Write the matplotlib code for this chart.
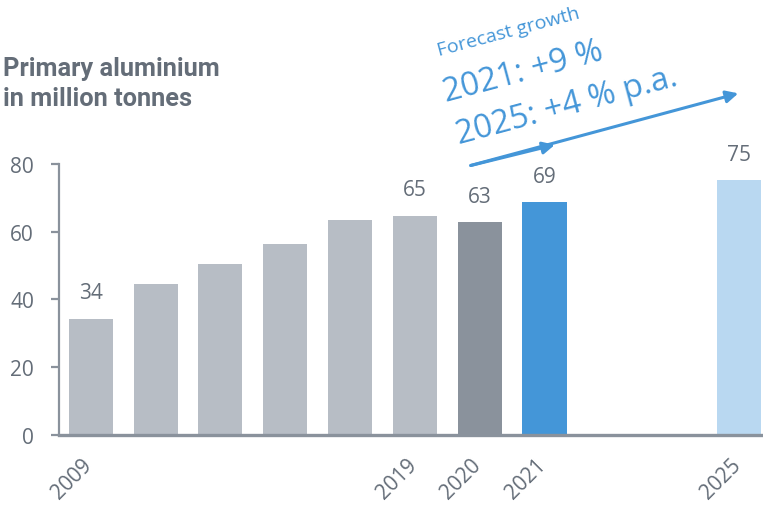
import numpy as np
import matplotlib
matplotlib.use("Agg")
import matplotlib.pyplot as plt
import matplotlib.transforms as mtransforms

# data
years = ['2009', '', '', '', '', '2019', '2020', '2021', '', '', '2025']
values = [34.2, 44.6, 50.5, 56.3, 63.3, 64.6, 62.7, 68.6, np.nan, np.nan, 75.1]
shown = ['34', '', '', '', '', '65', '63', '69', '', '', '75']
colors = ['#b7bdc5'] * 6 + ['#8a929c', '#4496d8', '#ffffff', '#ffffff', '#b9d8f1']

grey_text = '#646d78'
axis_col = '#8a929c'
blue = '#4496d8'

plt.rcParams['font.family'] = ['Open Sans', 'DejaVu Sans']

fig = plt.figure(figsize=(7.63, 5.06), dpi=100)
ax = fig.add_axes([0.0773, 0.1383, 0.9227, 0.536])

x = np.arange(len(years))
ax.bar(x, values, width=0.68, color=colors)

for xi, v, s in zip(x, values, shown):
    if s:
        ax.annotate(s, (xi, v), xytext=(0, 19), textcoords='offset points',
                    ha='center', va='center', fontsize=15, color=grey_text)

ax.set_xlim(-0.49, 10.37)
ax.set_ylim(0, 80)
ax.set_yticks([0, 20, 40, 60, 80])
ax.set_xticks([])

# year labels, rotated, a bit left of the bar centre
shift = mtransforms.ScaledTranslation(-0.09, -0.19, fig.dpi_scale_trans)
for xi, yr in zip(x, years):
    if yr:
        ax.text(xi, 0, yr, transform=ax.get_xaxis_transform() + shift,
                rotation=45, ha='right', va='top', rotation_mode='anchor',
                fontsize=15, color=grey_text)

for side in ['top', 'right']:
    ax.spines[side].set_visible(False)
ax.spines['left'].set_color(axis_col)
ax.spines['left'].set_linewidth(1.6)
ax.spines['bottom'].set_color(axis_col)
ax.spines['bottom'].set_linewidth(2.4)
ax.tick_params(axis='y', colors=axis_col, labelcolor=grey_text, labelsize=15,
               length=6, width=1.6, pad=12)

fig.text(0.004, 0.888, 'Primary aluminium\nin million tonnes', fontsize=18.3,
         fontweight='bold', color=grey_text, family=['Roboto', 'DejaVu Sans'],
         ha='left', va='top', linespacing=1.33)

# forecast arrow
ax.annotate('', xy=(10.03, 101), xytext=(5.82, 79.3), xycoords='data',
            arrowprops=dict(arrowstyle='-|>', color=blue, lw=2.2,
                            mutation_scale=18), annotation_clip=False)
ax.annotate('', xy=(7.2, 85.8), xytext=(5.82, 79.3), xycoords='data',
            arrowprops=dict(arrowstyle='-|>', color=blue, lw=2.2,
                            mutation_scale=18), annotation_clip=False)

fig.text(0.667, 0.937, 'Forecast growth', fontsize=14, color=blue, rotation=15,
         ha='center', va='center')
fig.text(0.686, 0.857, '2021: +9 %', fontsize=23.5, color=blue, rotation=15,
         ha='center', va='center')
fig.text(0.743, 0.79, '2025: +4 % p.a.', fontsize=23.5, color=blue, rotation=15,
         ha='center', va='center')

fig.savefig('out.png', dpi=100)
